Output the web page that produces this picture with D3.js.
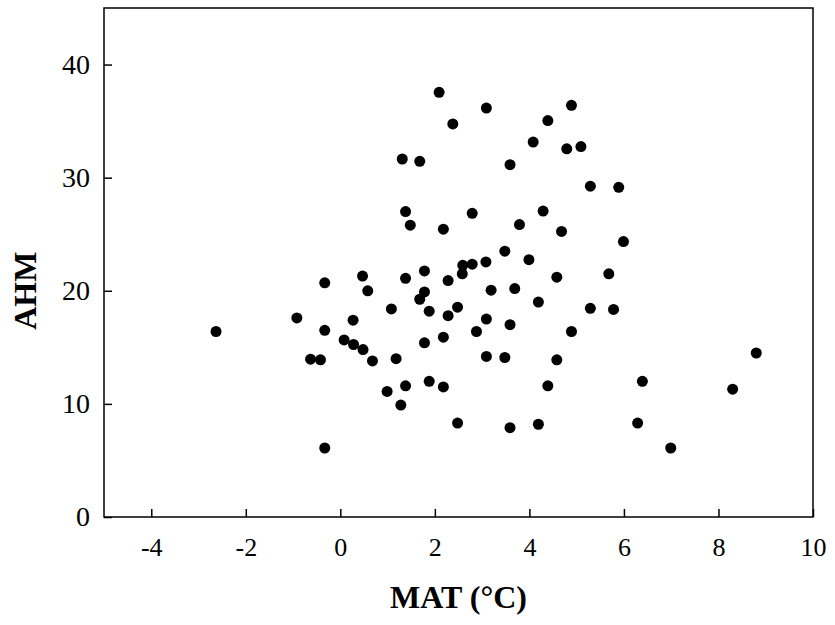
<!DOCTYPE html>
<html>
<head>
<meta charset="utf-8">
<script src="https://cdn.jsdelivr.net/npm/d3@7"></script>
<style>
  body { margin: 0; background: #fff; }
  text { font-family: "Liberation Serif", "Times New Roman", serif; fill: #000; }
</style>
</head>
<body>
<div id="chart"></div>
<script>
// mean annual temperature (°C)
var MAT = [
    -2.63, -0.92, -0.63, -0.42, -0.33, -0.33, -0.33, 0.08, 0.27, 0.28,
    0.47, 0.48, 0.58, 0.68, 0.99, 1.08, 1.18, 1.28, 1.31, 1.38,
    1.38, 1.38, 1.48, 1.68, 1.68, 1.78, 1.78, 1.78, 1.88, 1.88,
    2.09, 2.18, 2.18, 2.18, 2.28, 2.28, 2.38, 2.48, 2.48, 2.58,
    2.59, 2.79, 2.79, 2.88, 3.08, 3.09, 3.09, 3.09, 3.19, 3.48,
    3.48, 3.59, 3.59, 3.59, 3.69, 3.79, 3.99, 4.08, 4.19, 4.19,
    4.29, 4.39, 4.39, 4.58, 4.58, 4.68, 4.79, 4.89, 4.89, 5.09,
    5.29, 5.29, 5.68, 5.78, 5.89, 5.99, 6.29, 6.39, 6.99, 8.30,
    8.80
];

// annual heat-moisture index
var AHM = [
    16.4, 17.6, 13.95, 13.9, 20.7, 16.5, 6.1, 15.65, 17.4, 15.25,
    21.3, 14.8, 20.0, 13.8, 11.1, 18.4, 14.0, 9.9, 31.65, 27.0,
    21.1, 11.6, 25.8, 31.45, 19.25, 21.75, 19.9, 15.4, 18.2, 12.0,
    37.55, 25.45, 15.9, 11.5, 20.9, 17.8, 34.75, 18.55, 8.3, 21.5,
    22.25, 26.85, 22.35, 16.4, 22.55, 36.15, 17.5, 14.2, 20.05, 23.5,
    14.1, 31.15, 17.0, 7.9, 20.2, 25.85, 22.75, 33.15, 19.0, 8.2,
    27.05, 35.05, 11.6, 21.2, 13.9, 25.25, 32.55, 36.4, 16.4, 32.75,
    29.25, 18.45, 21.5, 18.35, 29.15, 24.35, 8.3, 12.0, 6.1, 11.3,
    14.5
];

var X_TICKS = [-4, -2, 0, 2, 4, 6, 8, 10];
var Y_TICKS = [0, 10, 20, 30, 40];

var width = 835,
    height = 625,
    margin = {top: 8, right: 22, bottom: 108, left: 104};

var svg = d3.select('#chart')
    .append('svg')
    .attr('width', width)
    .attr('height', height);

var x = d3.scaleLinear()
    .domain([-5, 10])
    .range([margin.left, width - margin.right]);

var y = d3.scaleLinear()
    .domain([0, 45])
    .range([height - margin.bottom, margin.top]);

// plain hyphen for negatives, as in the original figure
function fmt(d) { return String(d); }

// x axis, ticks pointing into the plot
var xAxis = svg.append('g')
    .attr('transform', 'translate(0,' + y(0) + ')')
    .call(d3.axisBottom(x).tickValues(X_TICKS).tickFormat(fmt)
        .tickSizeInner(-8).tickSizeOuter(0).tickPadding(21));

var yAxis = svg.append('g')
    .attr('transform', 'translate(' + x(-5) + ',0)')
    .call(d3.axisLeft(y).tickValues(Y_TICKS).tickFormat(fmt)
        .tickSizeInner(-8).tickSizeOuter(0).tickPadding(14));

[xAxis, yAxis].forEach(function(g, i) {
    g.select('.domain').remove();
    g.selectAll('.tick line').attr('stroke', '#000').attr('stroke-width', 1.5);
    g.selectAll('.tick text')
        .style('font-family', '"Liberation Serif", "Times New Roman", serif')
        .style('font-size', i === 0 ? '26px' : '28px')
        .attr('fill', '#000');
});

// frame
svg.append('rect')
    .attr('x', x(-5))
    .attr('y', y(45))
    .attr('width', x(10) - x(-5))
    .attr('height', y(0) - y(45))
    .attr('fill', 'none')
    .attr('stroke', '#000')
    .attr('stroke-width', 1.5);

// points
svg.append('g')
    .selectAll('circle')
    .data(MAT)
    .enter()
    .append('circle')
    .attr('cx', function(d) { return x(d); })
    .attr('cy', function(d, i) { return y(AHM[i]); })
    .attr('r', 5.5)
    .attr('fill', '#000');

// axis titles
svg.append('text')
    .attr('x', (x(-5) + x(10)) / 2)
    .attr('y', 608)
    .attr('text-anchor', 'middle')
    .style('font-size', '32px')
    .style('font-weight', 'bold')
    .text('MAT (°C)');

svg.append('text')
    .attr('transform', 'translate(36,' + y(20) + ') rotate(-90)')
    .attr('text-anchor', 'middle')
    .style('font-size', '32px')
    .style('font-weight', 'bold')
    .text('AHM');
</script>
</body>
</html>
